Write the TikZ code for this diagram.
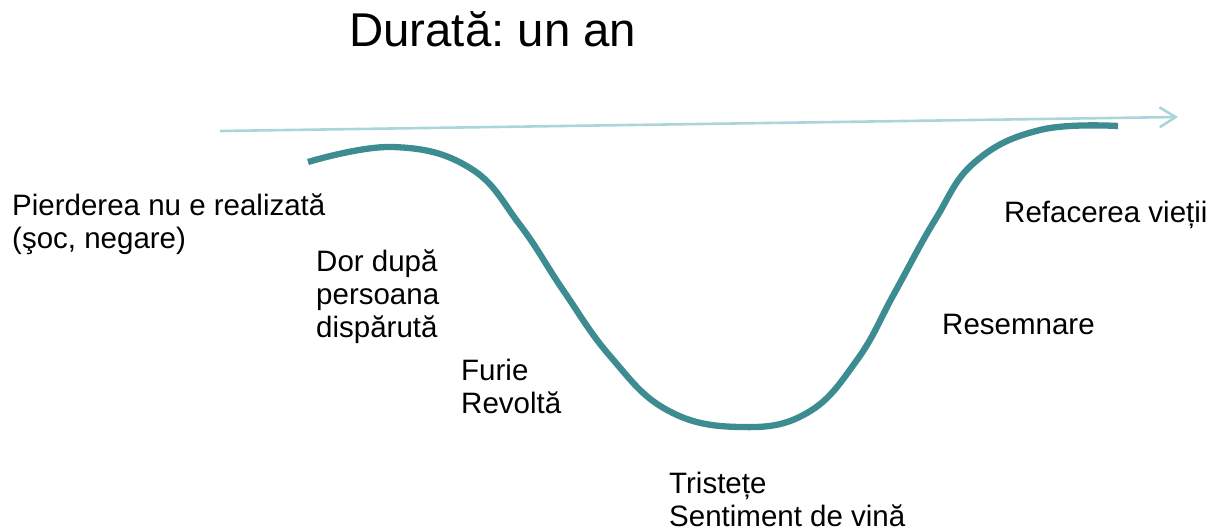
\documentclass[tikz,border=0pt]{standalone}
\usepackage{fontspec}
\setmainfont{Liberation Sans}
\usetikzlibrary{arrows.meta}
\definecolor{curveteal}{RGB}{60,140,145}
\definecolor{arrowblue}{RGB}{170,214,219}
\begin{document}
\begin{tikzpicture}[x=1pt,y=-1pt,
  lbl/.style={anchor=base west,inner sep=0pt,align=left,font=\fontsize{29.5}{33}\selectfont},
  ttl/.style={anchor=base west,inner sep=0pt,font=\frenchspacing\fontsize{47.4}{52}\selectfont},
  curvestyle/.style={draw=curveteal,line width=6.3pt},
  timearrow/.style={draw=arrowblue,line width=2.6pt,-{Straight Barb[length=16pt,width=20pt]}}]
\useasboundingbox (0,0) rectangle (1208,531);
\node[ttl] (title) at (349,46) {Durată: un an};
\coordinate (a0) at (220,131);
\coordinate (a1) at (1178,117);
\draw[timearrow] (a0) -- (a1);
\draw[curvestyle] plot[smooth,tension=0.7] coordinates {(308,162) (393,147) (470,168) (520,225) (563,290) (610,356) (667,410) (740,427) (807,413) (857,360) (895,292) (935,220) (975,162) (1040,130) (1118,126)};
\node[lbl] (pierd) at (12,248) {Pierderea nu e realizată\\(şoc, negare)};
\node[lbl] (dor) at (316,337) {Dor după\\persoana\\dispărută};
\node[lbl] (furie) at (461,413) {Furie\\Revoltă};
\node[lbl] (trist) at (669,526) {Tristețe\\Sentiment de vină};
\node[lbl] (resem) at (942,334) {Resemnare};
\node[lbl] (refac) at (1004,222) {Refacerea vieții};
\end{tikzpicture}
\end{document}
